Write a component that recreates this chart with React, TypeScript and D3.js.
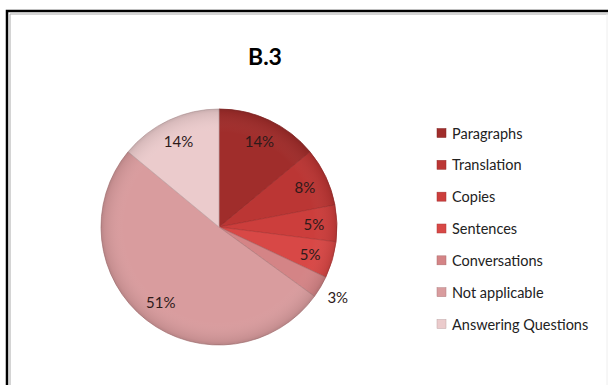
import React from "react";
import * as d3 from "d3";

const categories = ["Paragraphs", "Translation", "Copies", "Sentences", "Conversations", "Not applicable", "Answering Questions"];
const values = [14, 8, 5, 5, 3, 51, 14];
const labels = ["14%", "8%", "5%", "5%", "3%", "51%", "14%"];
const colors = ["#a02d2b", "#bb3634", "#cc3e3c", "#d84846", "#d48486", "#d99c9e", "#ebcbcc"];
const title = "B.3";

const W = 608, H = 385;
const cx = 219, cy = 227, R = 118;

export default function App() {
  const pie = d3.pie<number>().sort(null).value((d) => d)(values);
  const arc = d3.arc<d3.PieArcDatum<number>>().innerRadius(0).outerRadius(R);
  const labelArc = d3.arc<d3.PieArcDatum<number>>().innerRadius(95).outerRadius(95);
  const outerArc = d3.arc<d3.PieArcDatum<number>>().innerRadius(138).outerRadius(138);
  const font = "Lato, 'Open Sans', sans-serif";
  const legendY = d3.scalePoint<string>().domain(categories).range([133, 324]);

  return (
    <svg width={W} height={H} style={{ position: "absolute", left: 0, top: 0, background: "#fff" }}>
      <defs>
        <radialGradient id="shade" cx="0.5" cy="0.5" r="0.5">
          <stop offset="0.8" stopColor="#fff" stopOpacity={0} />
          <stop offset="0.97" stopColor="#000" stopOpacity={0.08} />
          <stop offset="1" stopColor="#000" stopOpacity={0.15} />
        </radialGradient>
      </defs>
      <rect x={0} y={0} width={W} height={H} fill="#fff" />
      <path d={`M7,${H} L7,11 L${W},11`} fill="none" stroke="#000" strokeWidth={2.5} />
      <path d={`M10,${H} L10,14 L${W},14`} fill="none" stroke="#aaa" strokeWidth={1} />
      <line x1={W - 1} y1={14} x2={W - 1} y2={H} stroke="#eee" strokeWidth={1} />
      <text x={265} y={65} textAnchor="middle" fontFamily={font} fontWeight="bold" fontSize={23} fill="#000">
        {title}
      </text>
      <g transform={`translate(${cx},${cy})`}>
        {pie.map((p, i) => (
          <path key={i} d={arc(p) || ""} fill={colors[i]} stroke={d3.color(colors[i])!.darker(0.5).toString()} strokeWidth={0.8} />
        ))}
        <circle r={R} fill="url(#shade)" />
        {pie.map((p, i) => {
          const outside = values[i] < 4;
          const [x, y] = outside ? outerArc.centroid(p) : labelArc.centroid(p);
          return (
            <text key={i} x={x} y={y} textAnchor="middle" dominantBaseline="central" fontFamily={font} fontSize={15} fill="#2e1a1a">
              {labels[i]}
            </text>
          );
        })}
      </g>
      <g>
        {categories.map((c, i) => {
          const y = legendY(c)!;
          return (
            <g key={c}>
              <rect x={437} y={y - 4.5} width={9} height={9} fill={colors[i]} stroke={d3.color(colors[i])!.darker(0.6).toString()} strokeWidth={0.5} />
              <text x={452} y={y} dominantBaseline="central" fontFamily={font} fontSize={14.5} fill="#222">
                {c}
              </text>
            </g>
          );
        })}
      </g>
    </svg>
  );
}
